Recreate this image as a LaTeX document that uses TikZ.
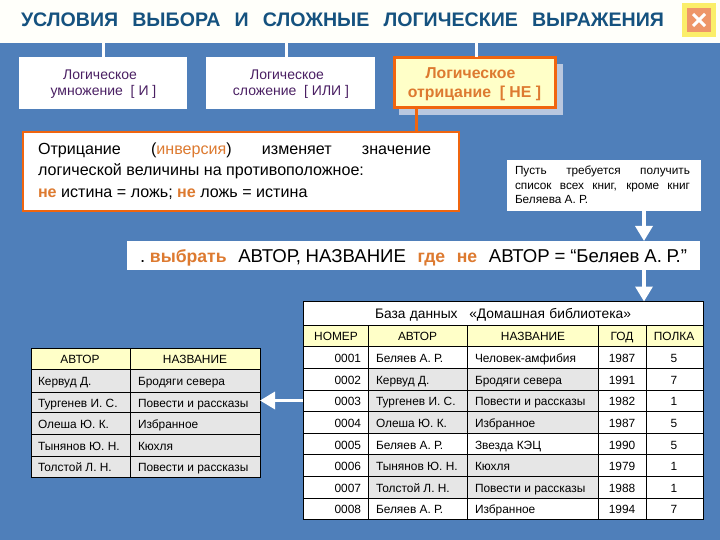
\documentclass[tikz,border=0pt]{standalone}
\usepackage{fontspec}
\setmainfont{Liberation Sans}
\usetikzlibrary{arrows.meta}
\definecolor{bgblue}{HTML}{4F7FBA}
\definecolor{hotorange}{HTML}{F0650F}
\definecolor{softorange}{HTML}{DD7A30}
\definecolor{titleblue}{HTML}{15527F}
\definecolor{plum}{HTML}{4A1F63}
\definecolor{cream}{HTML}{FFFFC8}
\definecolor{paper}{HTML}{FFFFFA}
\definecolor{greycell}{HTML}{E6E6E6}
\definecolor{shadowblue}{HTML}{B9C7DF}
\definecolor{btnfill}{HTML}{EE9669}
\definecolor{btnedge}{HTML}{FBEE6A}
\newcommand{\fs}[1]{\fontsize{#1}{#1}\selectfont}
\newcommand{\hot}[1]{\textcolor{softorange}{\textbf{#1}}}
\newcommand{\qhot}[1]{{\fs{17.6}\hot{#1}}}
\newcommand{\fixgap}{\hspace{4.8pt}}
\tikzset{
  txt/.style={inner sep=0pt,outer sep=0pt,anchor=base west},
  ctxt/.style={inner sep=0pt,outer sep=0pt,anchor=base},
  rtxt/.style={inner sep=0pt,outer sep=0pt,anchor=base east},
  panel/.style={inner sep=0pt,outer sep=0pt,anchor=north west,fill=white},
  optext/.style={ctxt,text=plum,font=\fs{14}},
  nottext/.style={ctxt,text=softorange,font=\fs{15.8}\bfseries},
  deftext/.style={txt,font=\fs{16.1}},
  tasktext/.style={txt,font=\fs{11.8}},
  cellrule/.style={draw=black,line width=0.9pt},
  whiteline/.style={draw=white,line width=3pt},
  whitearrow/.style={draw=white,line width=3.4pt,-{Triangle[length=15pt,width=17pt,fill=white]}},
  tabtext/.style={txt,font=\fs{11.9}},
  tabctext/.style={ctxt,font=\fs{11.9}},
  tabrtext/.style={rtxt,font=\fs{11.9}},
}
\newcommand{\dbrow}[7]{%
  \node[tabrtext] (num#1) at (361,#2) {#3};
  \node[tabtext]  (aut#1) at (376,#2) {#4};
  \node[tabtext]  (nam#1) at (475,#2) {#5};
  \node[tabctext] (yea#1) at (622,#2) {#6};
  \node[tabctext] (she#1) at (674,#2) {#7};
}
\newcommand{\resrow}[4]{%
  \node[tabtext] (raut#1) at (38,#2) {#3};
  \node[tabtext] (rnam#1) at (138,#2) {#4};
}
\begin{document}
\begin{tikzpicture}[x=1pt,y=-1pt]
\useasboundingbox (0,0) rectangle (720,540);
\fill[bgblue] (0,0) rectangle (720,540);
\fill[paper] (0,0) rectangle (720,43);

% title
\node[txt,text=titleblue,font=\fs{19.6}\bfseries] (title) at (21,27)
  {\makebox[643pt][s]{УСЛОВИЯ ВЫБОРА И СЛОЖНЫЕ ЛОГИЧЕСКИЕ ВЫРАЖЕНИЯ}};

% close button
\node[panel,fill=btnfill,draw=btnedge,line width=4.5pt,minimum width=29pt,minimum height=29pt] (closebtn) at (684.5,5.5) {};
\draw[white,line width=3pt] ([shift={(-6,-6)}]closebtn.center) -- ([shift={(6,6)}]closebtn.center);
\draw[white,line width=3pt] ([shift={(-6,6)}]closebtn.center) -- ([shift={(6,-6)}]closebtn.center);

% operator panels
\node[panel,minimum width=168pt,minimum height=52pt] (andbox) at (19,57) {};
\node[panel,minimum width=169pt,minimum height=52pt] (orbox) at (206,57) {};
\fill[shadowblue] (399,64) rectangle (563,115.5);
\node[panel,fill=cream,draw=hotorange,line width=3pt,minimum width=161pt,minimum height=50pt] (notbox) at (394.5,57.5) {};
\coordinate (titlea) at (103,43);
\coordinate (titleb) at (286,43);
\coordinate (titlec) at (476.5,43);
\draw[whiteline] (titlea) -- (titlea |- andbox.north);
\draw[whiteline] (titleb) -- (titleb |- orbox.north);
\draw[whiteline] (titlec) -- (titlec |- notbox.north);

\node[optext] (andone) at (100,80) {Логическое};
\node[optext] (andtwo) at (103.5,96) {умножение\ \ [ И ]};
\node[optext] (orone) at (287,80) {Логическое};
\node[optext] (ortwo) at (291,96) {сложение\ \ [ ИЛИ ]};
\node[nottext] (notone) at (470.5,79) {Логическое};
\node[nottext] (nottwo) at (474.5,98) {отрицание\ \ [ НЕ ]};

% definition
\node[panel,draw=hotorange,line width=2.6pt,minimum width=436pt,minimum height=79pt] (defbox) at (23,132) {};
\coordinate (notfoot) at (416,109);
\draw[draw=hotorange,line width=3pt] (notfoot) -- (notfoot |- defbox.north);
\node[deftext] (defone) at (38,155)
  {\makebox[393pt][s]{Отрицание \hfill (\textcolor{softorange}{инверсия}) \hfill изменяет \hfill значение}};
\node[deftext] (deftwo) at (38,176) {логической величины на противоположное:};
\node[deftext] (defthree) at (38,197) {\hot{не} истина = ложь; \hot{не} ложь = истина};

% task
\node[panel,minimum width=194pt,minimum height=51pt] (taskbox) at (507,160) {};
\node[tasktext] (taskone) at (515,175) {\makebox[175pt][s]{Пусть требуется получить}};
\node[tasktext] (tasktwo) at (515,190) {\makebox[175pt][s]{список всех книг, кроме книг}};
\node[tasktext] (taskthree) at (515,204) {Беляева А. Р.};

% query
\node[panel,minimum width=573pt,minimum height=29pt] (querybox) at (127,241) {};
\node[txt,font=\fs{18.6}] (query) at (140,262)
  {\makebox[547pt][s]{.\fixgap\qhot{выбрать} АВТОР,\fixgap НАЗВАНИЕ \qhot{где} \qhot{не} АВТОР\fixgap=\fixgap“Беляев\fixgap А.\fixgap Р.”}};

% database table
\node[panel,minimum width=400pt,minimum height=218pt] (dbtable) at (303,301.5) {};
\fill[cream] (303,325.5) rectangle (703,346.5);
\fill[greycell] (368,368.5) rectangle (598,433.5);
\fill[greycell] (368,454.5) rectangle (598,498.5);
\foreach \yy in {325.5,346.5,368.5,390.5,411,433.5,454.5,476.5,498.5}
  \draw[cellrule] (303,\yy) -- (703,\yy);
\foreach \xx in {368,467,598,646}
  \draw[cellrule] (\xx,325.5) -- (\xx,519.5);
\draw[cellrule] (dbtable.north west) rectangle (dbtable.south east);
\node[txt,font=\fs{13.8}] (dbtitle) at (375,318) {\makebox[256pt][s]{База данных \hspace{3pt} «Домашная библиотека»}};
\node[tabctext] (hnum) at (336,340.5) {НОМЕР};
\node[tabctext] (haut) at (417.5,340.5) {АВТОР};
\node[tabctext] (hnam) at (533,340.5) {НАЗВАНИЕ};
\node[tabctext] (hyea) at (622,340.5) {ГОД};
\node[tabctext] (hshe) at (674,340.5) {ПОЛКА};
\dbrow{a}{362}{0001}{Беляев А. Р.}{Человек-амфибия}{1987}{5}
\dbrow{b}{384}{0002}{Кервуд Д.}{Бродяги севера}{1991}{7}
\dbrow{c}{405}{0003}{Тургенев И. С.}{Повести и рассказы}{1982}{1}
\dbrow{d}{427}{0004}{Олеша Ю. К.}{Избранное}{1987}{5}
\dbrow{e}{449}{0005}{Беляев А. Р.}{Звезда КЭЦ}{1990}{5}
\dbrow{f}{470}{0006}{Тынянов Ю. Н.}{Кюхля}{1979}{1}
\dbrow{g}{492}{0007}{Толстой Л. Н.}{Повести и рассказы}{1988}{1}
\dbrow{h}{513}{0008}{Беляев А. Р.}{Избранное}{1994}{7}

% result table
\node[panel,fill=greycell,minimum width=229pt,minimum height=129pt] (restable) at (31,348) {};
\fill[cream] (31,348) rectangle (260,369);
\foreach \yy in {369,392,412,434,456}
  \draw[cellrule] (31,\yy) -- (260,\yy);
\draw[cellrule] (130,348) -- (130,477);
\draw[cellrule] (restable.north west) rectangle (restable.south east);
\node[tabctext] (rhaut) at (80,363) {АВТОР};
\node[tabctext] (rhnam) at (195,363) {НАЗВАНИЕ};
\resrow{a}{385}{Кервуд Д.}{Бродяги севера}
\resrow{b}{407}{Тургенев И. С.}{Повести и рассказы}
\resrow{c}{428}{Олеша Ю. К.}{Избранное}
\resrow{d}{450}{Тынянов Ю. Н.}{Кюхля}
\resrow{e}{471}{Толстой Л. Н.}{Повести и рассказы}

% connectors
\coordinate (flow) at (644,400.5);
\draw[whitearrow] (flow |- taskbox.south) -- (flow |- querybox.north);
\draw[whitearrow] (flow |- querybox.south) -- (flow |- dbtable.north);
\draw[whitearrow] (dbtable.west |- flow) -- (restable.east |- flow);
\end{tikzpicture}
\end{document}
